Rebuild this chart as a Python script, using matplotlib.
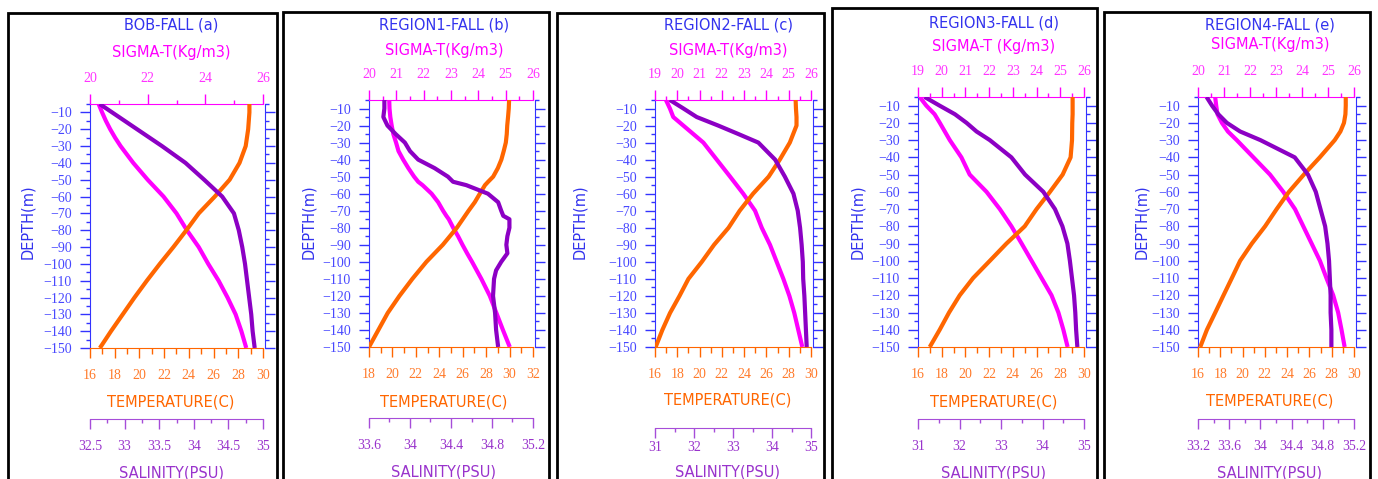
import numpy as np
import matplotlib.pyplot as plt
from matplotlib.ticker import MultipleLocator, FormatStrFormatter
from matplotlib.patches import Rectangle

plt.rcParams['font.family'] = ['Liberation Serif', 'DejaVu Serif']

W, H = 1378, 479

# depth levels (m)
depth = [-5, -10, -15, -20, -25, -30, -40, -50, -60, -70, -80, -90, -100, -110, -120, -130, -140, -150]
depth_b = [-5, -10, -15, -20, -25, -30, -35, -40, -45, -50, -53, -55, -60, -65, -70, -73, -75,
           -80, -85, -90, -95, -100, -105, -110, -120, -130, -140, -150]

# (a) BOB
temp_a = [28.9, 28.9, 28.85, 28.8, 28.7, 28.6, 28.1, 27.3, 26.1, 24.8, 23.8, 22.75, 21.65, 20.6, 19.6, 18.65, 17.7, 16.8]
sigma_a = [20.3, 20.42, 20.55, 20.7, 20.87, 21.06, 21.5, 22.0, 22.55, 23.0, 23.36, 23.77, 24.1, 24.46, 24.77, 25.05, 25.25, 25.42]
sal_a = [32.64, 32.82, 33.0, 33.18, 33.36, 33.54, 33.88, 34.15, 34.41, 34.58, 34.65, 34.7, 34.74, 34.77, 34.8, 34.83, 34.85, 34.88]

# (b) region 1
temp_b = [29.96, 29.93, 29.87, 29.8, 29.76, 29.68, 29.5, 29.3, 29.0, 28.6, 28.17, 27.9, 27.46, 27.03, 26.5, 26.2, 26.0,
          25.5, 24.9, 24.3, 23.6, 22.9, 22.3, 21.7, 20.6, 19.6, 18.8, 18.0]
sigma_b = [20.74, 20.75, 20.78, 20.83, 20.89, 20.99, 21.08, 21.25, 21.44, 21.65, 21.8, 21.96, 22.29, 22.53, 22.71, 22.83, 22.92,
           23.08, 23.26, 23.42, 23.59, 23.77, 23.94, 24.11, 24.42, 24.66, 24.9, 25.15]
sal_b = [33.75, 33.75, 33.74, 33.78, 33.86, 33.95, 34.0, 34.08, 34.24, 34.37, 34.42, 34.55, 34.76, 34.86, 34.89, 34.91, 34.97,
         34.97, 34.95, 34.94, 34.95, 34.89, 34.84, 34.82, 34.81, 34.83, 34.84, 34.86]

# (c) region 2
temp_c = [28.62, 28.65, 28.7, 28.7, 28.4, 28.1, 27.2, 26.2, 24.8, 23.6, 22.6, 21.3, 20.2, 19.0, 18.2, 17.35, 16.66, 16.06]
sigma_c = [19.49, 19.67, 19.82, 20.27, 20.72, 21.17, 21.77, 22.37, 22.96, 23.49, 23.79, 24.16, 24.46, 24.76, 25.03, 25.25, 25.43, 25.61]
sal_c = [31.38, 31.73, 32.07, 32.62, 33.14, 33.65, 34.08, 34.33, 34.55, 34.66, 34.72, 34.76, 34.79, 34.8, 34.83, 34.85, 34.87, 34.89]

# (d) region 3
temp_d = [29.04, 29.04, 29.04, 29.01, 29.0, 28.99, 28.87, 28.2, 27.13, 26.0, 25.0, 23.46, 22.06, 20.65, 19.52, 18.62, 17.83, 16.99]
sigma_d = [19.07, 19.35, 19.7, 19.92, 20.13, 20.34, 20.83, 21.18, 21.89, 22.45, 22.94, 23.37, 23.79, 24.21, 24.63, 24.92, 25.13, 25.31]
sal_d = [31.16, 31.52, 31.89, 32.17, 32.41, 32.73, 33.25, 33.58, 34.02, 34.3, 34.48, 34.6, 34.66, 34.71, 34.76, 34.79, 34.81, 34.84]

# (e) region 4
temp_e = [29.26, 29.26, 29.23, 29.1, 28.78, 28.27, 26.93, 25.5, 24.16, 23.06, 22.02, 20.83, 19.78, 19.04, 18.29, 17.55, 16.8, 16.2]
sigma_e = [20.66, 20.7, 20.75, 20.92, 21.15, 21.49, 22.13, 22.77, 23.28, 23.73, 24.05, 24.37, 24.69, 24.94, 25.2, 25.39, 25.52, 25.64]
sal_e = [33.31, 33.38, 33.46, 33.57, 33.74, 34.0, 34.44, 34.61, 34.71, 34.77, 34.83, 34.86, 34.88, 34.89, 34.9, 34.9, 34.91, 34.91]

titles = ['BOB-FALL (a)', 'REGION1-FALL (b)', 'REGION2-FALL (c)', 'REGION3-FALL (d)', 'REGION4-FALL (e)']
sigma_titles = ['SIGMA-T(Kg/m3)', 'SIGMA-T(Kg/m3)', 'SIGMA-T(Kg/m3)', 'SIGMA-T (Kg/m3)', 'SIGMA-T(Kg/m3)']

BLUE = '#3333ee'
BLUE_T = '#4848ff'
MAG = '#ff00ff'
MAG_T = '#ff33ff'
ORANGE = '#ff6600'
ORANGE_T = '#ff7a2a'
PURPLE = '#8c00c4'
PURPLE_T = '#9933cc'
PURPLE_AX = '#a64dd9'

# layout in pixels: frame (x0, top, x1), plot (left, top, right, bottom), text x centre, text y's
panels = [
    dict(frame=(8, 13, 277), plot=(90, 104, 263, 348), cx=171, ty=(25, 53, 402, 473), dx=28,
         sig=(20, 26, 2, 1), tmp=(16, 30, 2, 1), sal=(32.5, 35, 0.5, 0.25), soff=71, spad=8,
         data=(depth, sigma_a, temp_a, sal_a)),
    dict(frame=(283, 12, 549), plot=(369, 100, 533, 347), cx=444, ty=(25, 50, 402, 472), dx=309,
         sig=(20, 26, 1, 0.5), tmp=(18, 32, 2, 1), sal=(33.6, 35.2, 0.4, 0.2), soff=71, spad=8,
         data=(depth_b, sigma_b, temp_b, sal_b)),
    dict(frame=(557, 13, 824), plot=(655, 100, 811, 347), cx=728, ty=(25, 51, 400, 472), dx=580,
         sig=(19, 26, 1, 0.5), tmp=(16, 30, 2, 1), sal=(31, 35, 1, 0.5), soff=81, spad=2,
         data=(depth, sigma_c, temp_c, sal_c)),
    dict(frame=(832, 8, 1097), plot=(918, 97, 1084, 347), cx=994, ty=(23, 46, 402, 473), dx=858,
         sig=(19, 26, 1, 0.5), tmp=(16, 30, 2, 1), sal=(31, 35, 1, 0.5), soff=72, spad=8,
         data=(depth, sigma_d, temp_d, sal_d)),
    dict(frame=(1104, 12, 1370), plot=(1198, 97, 1354, 347), cx=1270, ty=(25, 45, 401, 473), dx=1142,
         sig=(20, 26, 1, 0.5), tmp=(16, 30, 2, 1), sal=(33.2, 35.2, 0.4, 0.2), soff=72, spad=8,
         data=(depth, sigma_e, temp_e, sal_e)),
]

fig = plt.figure(figsize=(W / 100, H / 100), dpi=100)


def ftext(x, y, s, color, **kw):
    fig.text(x / W, 1 - y / H, s, color=color, ha='center', va='center',
             fontsize=10.5, family=['DejaVu Sans'], **kw)


for i, p in enumerate(panels):
    x0, top, x1 = p['frame']
    fig.add_artist(Rectangle((x0 / W, -0.05), (x1 - x0) / W, 1.05 - top / H,
                             transform=fig.transFigure, fill=False, edgecolor='black',
                             linewidth=2, clip_on=False))

    l, t, r, b = p['plot']
    ax = fig.add_axes([l / W, 1 - b / H, (r - l) / W, (b - t) / H])
    ax_t = ax.twiny()
    ax_s = ax.twiny()
    dep, sig, tmp, sal = p['data']

    # sigma-t on top
    ax.plot(sig, dep, color=MAG, lw=3, solid_capstyle='butt')
    ax.set_xlim(p['sig'][0], p['sig'][1])
    ax.set_ylim(-150, -5)
    ax.xaxis.tick_top()
    ax.xaxis.set_major_locator(MultipleLocator(p['sig'][2]))
    ax.xaxis.set_minor_locator(MultipleLocator(p['sig'][3]))
    ax.xaxis.set_major_formatter(FormatStrFormatter('%g'))
    ax.tick_params(axis='x', which='both', direction='out', top=True, bottom=False,
                   labeltop=True, labelbottom=False, color=MAG, labelcolor=MAG_T,
                   labelsize=10, pad=7, width=1)
    ax.tick_params(axis='x', which='major', length=7)
    ax.tick_params(axis='x', which='minor', length=3)

    # depth axis
    ax.yaxis.set_major_locator(MultipleLocator(10))
    ax.yaxis.set_minor_locator(MultipleLocator(5))
    ax.tick_params(axis='y', which='both', direction='out', left=True, right=True,
                   labelleft=True, labelright=False, color='#3333ff', labelcolor=BLUE_T,
                   labelsize=10, pad=6, width=1)
    ax.tick_params(axis='y', which='major', length=7)
    ax.tick_params(axis='y', which='minor', length=3)
    for lab in ax.get_yticklabels():
        lab.set_fontweight('bold')
    ax.spines['top'].set_color(MAG)
    ax.spines['left'].set_color('#3333ff')
    ax.spines['right'].set_color('#3333ff')
    ax.spines['right'].set_position(('outward', 1.5))
    ax.spines['bottom'].set_visible(False)

    # temperature on bottom
    ax_t.plot(tmp, dep, color=ORANGE, lw=3, solid_capstyle='butt')
    ax_t.set_xlim(p['tmp'][0], p['tmp'][1])
    ax_t.xaxis.tick_bottom()
    ax_t.xaxis.set_major_locator(MultipleLocator(p['tmp'][2]))
    ax_t.xaxis.set_minor_locator(MultipleLocator(p['tmp'][3]))
    ax_t.tick_params(axis='x', which='both', direction='out', top=False, bottom=True,
                     labeltop=False, labelbottom=True, color=ORANGE, labelcolor=ORANGE_T,
                     labelsize=10, pad=8, width=1)
    ax_t.tick_params(axis='x', which='major', length=7)
    ax_t.tick_params(axis='x', which='minor', length=4)
    for s in ['top', 'left', 'right']:
        ax_t.spines[s].set_visible(False)
    ax_t.spines['bottom'].set_visible(True)
    ax_t.spines['bottom'].set_color(ORANGE)

    # salinity on an offset bottom axis
    ax_s.plot(sal, dep, color=PURPLE, lw=3, solid_capstyle='butt')
    ax_s.set_xlim(p['sal'][0], p['sal'][1])
    ax_s.xaxis.tick_bottom()
    ax_s.xaxis.set_major_locator(MultipleLocator(p['sal'][2]))
    ax_s.xaxis.set_minor_locator(MultipleLocator(p['sal'][3]))
    ax_s.xaxis.set_major_formatter(FormatStrFormatter('%g'))
    ax_s.tick_params(axis='x', which='both', direction='out', top=False, bottom=True,
                     labeltop=False, labelbottom=True, color=PURPLE_AX, labelcolor=PURPLE_T,
                     labelsize=10, pad=p['spad'], width=1)
    ax_s.tick_params(axis='x', which='major', length=7)
    ax_s.tick_params(axis='x', which='minor', length=3)
    for s in ['top', 'left', 'right']:
        ax_s.spines[s].set_visible(False)
    ax_s.spines['bottom'].set_visible(True)
    ax_s.spines['bottom'].set_color(PURPLE_AX)
    ax_s.spines['bottom'].set_position(('outward', p['soff'] * 0.72))

    # labels
    ty = p['ty']
    ftext(p['cx'], ty[0], titles[i], BLUE)
    ftext(p['cx'], ty[1], sigma_titles[i], MAG)
    ftext(p['cx'], ty[2], 'TEMPERATURE(C)', ORANGE)
    ftext(p['cx'], ty[3], 'SALINITY(PSU)', PURPLE_T)
    ftext(p['dx'], 222, 'DEPTH(m)', BLUE, rotation=90)

fig.savefig('out.png', dpi=100)
